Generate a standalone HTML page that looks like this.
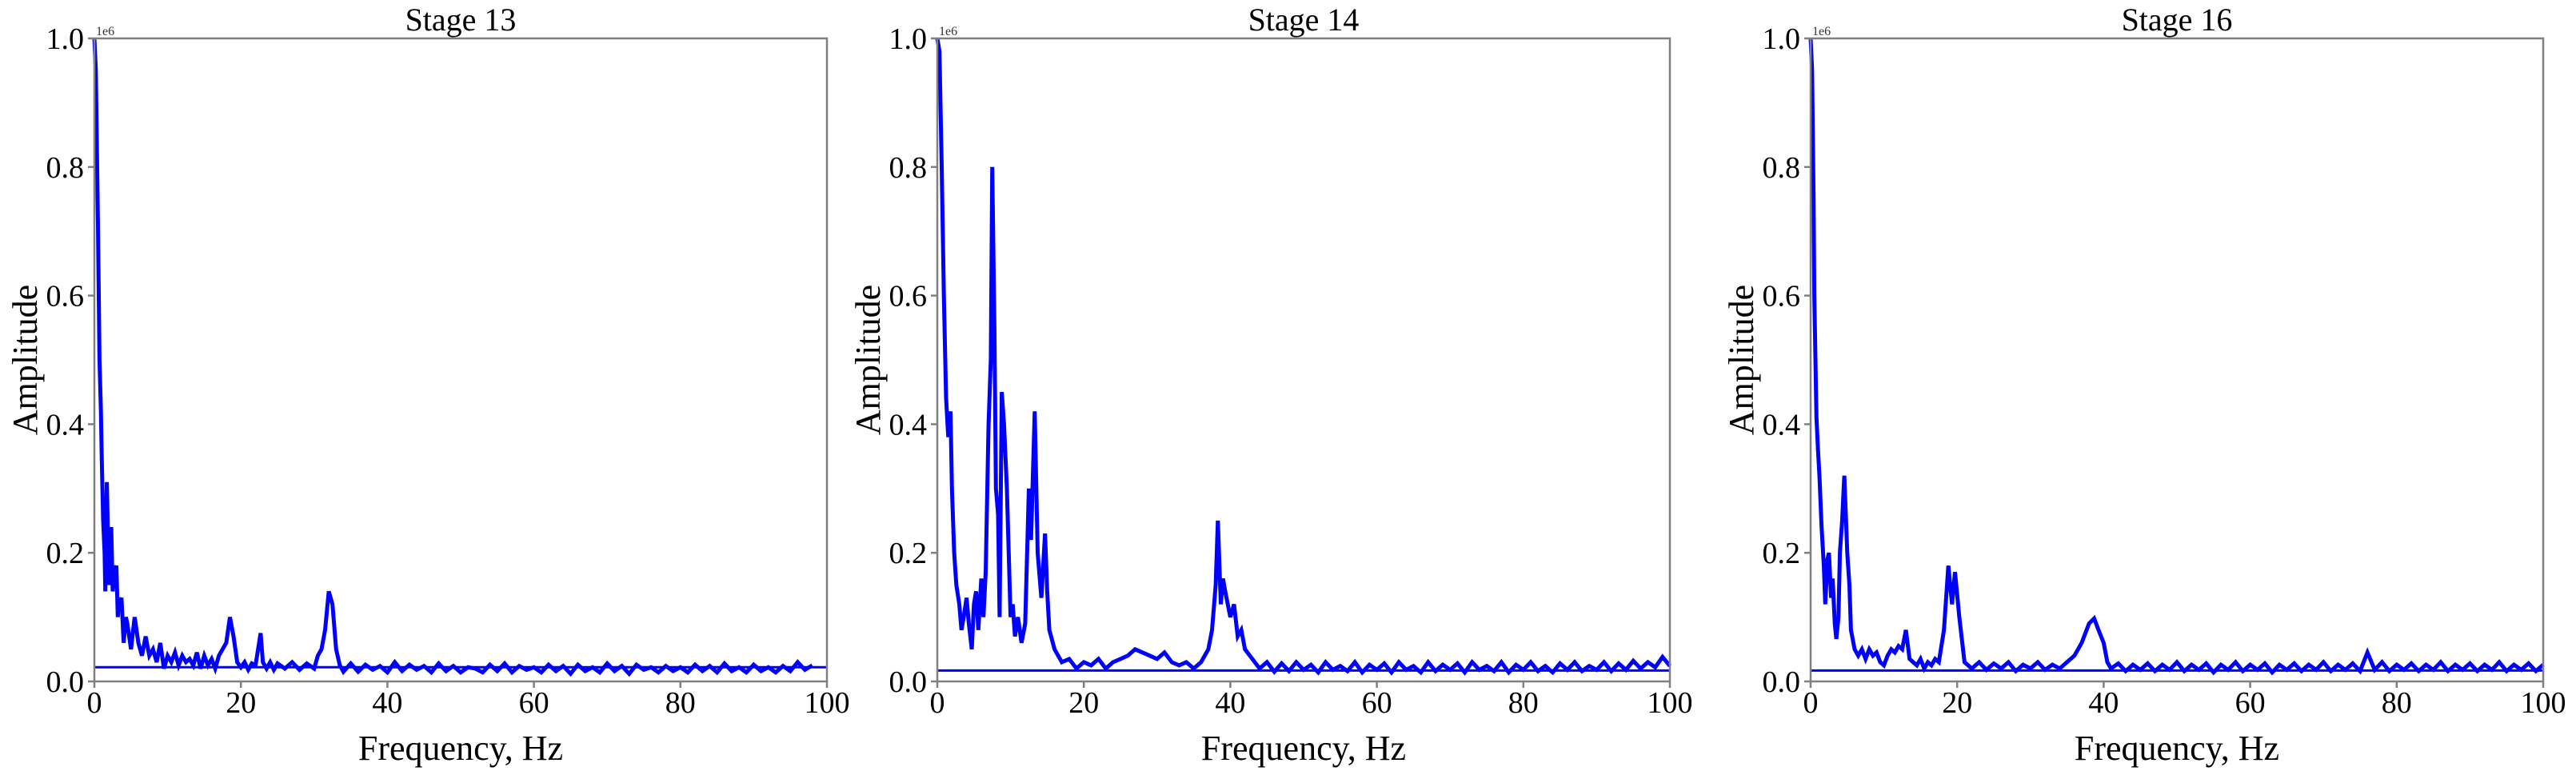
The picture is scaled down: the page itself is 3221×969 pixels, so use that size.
<!DOCTYPE html>
<html><head><meta charset="utf-8"><style>
html,body{margin:0;padding:0;background:#fff;}
svg{display:block;font-family:"Liberation Serif",serif;}
</style></head><body>
<svg id="chart" width="3221" height="969" viewBox="0 0 3221 969" xmlns="http://www.w3.org/2000/svg"></svg>
<script>
const titles = ["Stage 13","Stage 14","Stage 16"];
const xTicks = [0,20,40,60,80,100];
const yTicks = [0.0,0.2,0.4,0.6,0.8,1.0];
const yTickLabels = ["0.0","0.2","0.4","0.6","0.8","1.0"];
const baselines = [0.022,0.017,0.017];

const freq13 = [0,0.2,0.3,0.5,0.7,0.9,1.0,1.2,1.4,1.5,1.7,1.9,2.0,2.3,2.5,2.7,3.0,3.2,3.3,3.7,4.0,4.3,4.5,5.0,5.3,5.5,6.0,6.5,7.0,7.5,8.0,8.5,9.0,9.5,10,10.5,11,11.5,12,12.5,13,13.5,14,14.5,15,15.5,16,16.5,17,17.5,18,18.5,19,19.5,20,20.5,21,21.5,22,22.7,23,23.5,24,24.5,25,26,27,28,29,30,30.5,31,31.5,32,32.5,33,33.5,34,35,36,37,38,39,40,41,42,43,44,45,46,47,48,49,50,51,52,53,54,55,56,57,58,59,60,61,62,63,64,65,66,67,68,69,70,71,72,73,74,75,76,77,78,79,80,81,82,83,84,85,86,87,88,89,90,91,92,93,94,95,96,97,98,99,100];
const amp13 = [1.0,0.95,0.87,0.7,0.5,0.42,0.35,0.25,0.2,0.14,0.31,0.2,0.15,0.24,0.14,0.17,0.18,0.1,0.12,0.13,0.06,0.1,0.09,0.05,0.08,0.1,0.06,0.04,0.07,0.04,0.05,0.03,0.06,0.02,0.04,0.03,0.045,0.025,0.04,0.03,0.035,0.025,0.045,0.02,0.04,0.025,0.035,0.02,0.04,0.05,0.06,0.1,0.07,0.03,0.022,0.03,0.018,0.028,0.025,0.075,0.03,0.02,0.03,0.018,0.028,0.02,0.03,0.018,0.028,0.02,0.04,0.05,0.08,0.14,0.12,0.05,0.025,0.015,0.028,0.015,0.026,0.018,0.024,0.014,0.03,0.016,0.026,0.018,0.024,0.014,0.028,0.016,0.024,0.014,0.022,0.02,0.014,0.026,0.016,0.028,0.014,0.024,0.018,0.022,0.014,0.026,0.016,0.024,0.012,0.026,0.016,0.022,0.014,0.028,0.016,0.024,0.012,0.026,0.018,0.022,0.014,0.024,0.016,0.022,0.014,0.026,0.016,0.024,0.014,0.028,0.016,0.022,0.014,0.026,0.016,0.022,0.014,0.024,0.016,0.03,0.018,0.025];

const freq14 = [0,0.3,0.6,0.9,1.2,1.5,1.8,2.0,2.3,2.6,3.0,3.3,3.6,4.0,4.3,4.7,5.0,5.3,5.6,6.0,6.3,6.6,7.0,7.3,7.5,7.8,8.0,8.3,8.5,8.8,9.1,9.5,10,10.3,10.6,11,11.5,12,12.5,12.8,13.3,13.7,14.2,14.7,15.0,15.3,16,16.5,17,18,19,20,21,22,23,24,25,26,27,28,29,30,31,32,33,34,35,36,37,37.5,38,38.3,38.7,39,39.3,40,40.5,41,41.5,42,43,44,45,46,47,48,49,50,51,52,53,54,55,56,57,58,59,60,61,62,63,64,65,66,67,68,69,70,71,72,73,74,75,76,77,78,79,80,81,82,83,84,85,86,87,88,89,90,91,92,93,94,95,96,97,98,99,100];
const amp14 = [1.0,0.98,0.8,0.6,0.44,0.38,0.42,0.3,0.2,0.15,0.12,0.08,0.1,0.13,0.09,0.05,0.12,0.14,0.08,0.16,0.1,0.17,0.4,0.5,0.8,0.55,0.3,0.26,0.1,0.45,0.4,0.3,0.1,0.12,0.07,0.1,0.06,0.09,0.3,0.22,0.42,0.2,0.13,0.23,0.14,0.08,0.05,0.04,0.03,0.035,0.02,0.03,0.025,0.035,0.02,0.03,0.035,0.04,0.05,0.045,0.04,0.035,0.045,0.03,0.025,0.03,0.02,0.03,0.05,0.08,0.15,0.25,0.12,0.16,0.14,0.1,0.12,0.07,0.08,0.05,0.035,0.02,0.03,0.015,0.028,0.016,0.03,0.018,0.026,0.014,0.03,0.018,0.024,0.016,0.03,0.014,0.026,0.018,0.028,0.014,0.03,0.018,0.024,0.014,0.03,0.016,0.026,0.018,0.028,0.014,0.03,0.018,0.024,0.016,0.03,0.014,0.026,0.018,0.03,0.016,0.024,0.014,0.028,0.018,0.03,0.016,0.024,0.018,0.03,0.016,0.028,0.018,0.032,0.02,0.03,0.022,0.038,0.024,0.035];

const freq16 = [0,0.2,0.4,0.5,0.8,1.0,1.2,1.5,1.8,2.0,2.3,2.5,2.8,3.0,3.3,3.5,3.8,4.0,4.3,4.6,5.0,5.3,5.5,6.0,6.5,7,7.5,8,8.5,9,9.5,10,10.5,11,11.5,12,12.5,13,13.5,14,14.5,15,15.5,16,16.5,17,17.5,18.2,18.8,19.3,19.7,20.3,21,22,23,24,25,26,27,28,29,30,31,32,33,34,35,36,37,37.5,38,38.7,39.3,40,40.5,41,42,43,44,45,46,47,48,49,50,51,52,53,54,55,56,57,58,59,60,61,62,63,64,65,66,67,68,69,70,71,72,73,74,75,76,77,78,79,80,81,82,83,84,85,86,87,88,89,90,91,92,93,94,95,96,97,98,99,100];
const amp16 = [1.0,0.95,0.75,0.6,0.41,0.36,0.32,0.24,0.18,0.12,0.19,0.2,0.13,0.16,0.09,0.066,0.1,0.2,0.25,0.32,0.2,0.15,0.08,0.05,0.04,0.05,0.035,0.05,0.04,0.045,0.03,0.025,0.04,0.05,0.045,0.055,0.05,0.08,0.035,0.03,0.025,0.035,0.02,0.03,0.025,0.035,0.03,0.08,0.18,0.12,0.17,0.1,0.03,0.02,0.03,0.018,0.028,0.02,0.03,0.016,0.026,0.02,0.03,0.018,0.026,0.02,0.03,0.04,0.06,0.075,0.09,0.098,0.08,0.06,0.03,0.02,0.028,0.016,0.026,0.018,0.028,0.016,0.026,0.018,0.03,0.016,0.026,0.018,0.028,0.014,0.026,0.018,0.03,0.016,0.026,0.018,0.028,0.014,0.026,0.018,0.028,0.016,0.026,0.018,0.03,0.016,0.026,0.018,0.028,0.016,0.045,0.018,0.03,0.016,0.026,0.018,0.028,0.016,0.026,0.018,0.03,0.016,0.026,0.018,0.028,0.016,0.026,0.018,0.03,0.016,0.026,0.018,0.028,0.016,0.026,0.018,0.03,0.018,0.03];

const series = [[freq13,amp13],[freq14,amp14],[freq16,amp16]];
const plotLefts = [118,1172,2264];
const plotW = 916, plotTop = 48, plotBot = 852;
const NS = "http://www.w3.org/2000/svg";
const svg = document.getElementById('chart');
function mk(tag, attrs, parent){const e=document.createElementNS(NS,tag);for(const k in attrs)e.setAttribute(k,attrs[k]);(parent||svg).appendChild(e);return e;}

series.forEach((s,p)=>{
  const L = plotLefts[p];
  const xs = f => L + f/100*plotW;
  const ys = v => plotBot - v*(plotBot-plotTop);
  const g = mk('g',{});
  
  
  const t = mk('text',{x:L+plotW/2,y:38,'text-anchor':'middle','font-size':40,fill:'#000'},g);
  t.textContent = titles[p];
  
  
  const bl = mk('line',{x1:xs(0),x2:xs(100),y1:ys(baselines[p]),y2:ys(baselines[p]),stroke:'#0000ff','stroke-width':3},g);
  
  
  let d='';
  s[0].forEach((f,i)=>{d+=(i?'L':'M')+xs(f).toFixed(1)+' '+ys(s[1][i]).toFixed(1);});
  const path = mk('path',{d:d,fill:'none',stroke:'#0000ff','stroke-width':5,'stroke-linejoin':'miter'},g);
  
  
  const fr = mk('rect',{x:L,y:plotTop,width:plotW,height:plotBot-plotTop,fill:'none',stroke:'#808080','stroke-width':2.5},g);
  
  
  xTicks.forEach(v=>{
    const tk = mk('line',{x1:xs(v),x2:xs(v),y1:plotBot,y2:plotBot+8,stroke:'#808080','stroke-width':2.5},g);
    
    
    const tl = mk('text',{x:xs(v),y:891,'text-anchor':'middle','font-size':38,fill:'#000'},g);
    tl.textContent = String(v);
    
    
  });
  yTicks.forEach((v,i)=>{
    const tk = mk('line',{x1:L-8,x2:L,y1:ys(v),y2:ys(v),stroke:'#808080','stroke-width':2.5},g);
    
    
    const tl = mk('text',{x:L-13,y:ys(v)+13,'text-anchor':'end','font-size':38,fill:'#000'},g);
    tl.textContent = yTickLabels[i];
    
    
  });
  const ex = mk('text',{x:L+2,y:plotTop-4,'font-size':16,fill:'#333'},g);
  ex.textContent = '1e6';
  
  
  const xl = mk('text',{x:L+plotW/2,y:950,'text-anchor':'middle','font-size':44,fill:'#000'},g);
  xl.textContent = 'Frequency, Hz';
  
  
  const yl = mk('text',{x:0,y:0,'text-anchor':'middle','font-size':44,fill:'#000',transform:'translate('+(L-72)+',450) rotate(-90)'},g);
  yl.textContent = 'Amplitude';
  
  
});
</script>
</body></html>
